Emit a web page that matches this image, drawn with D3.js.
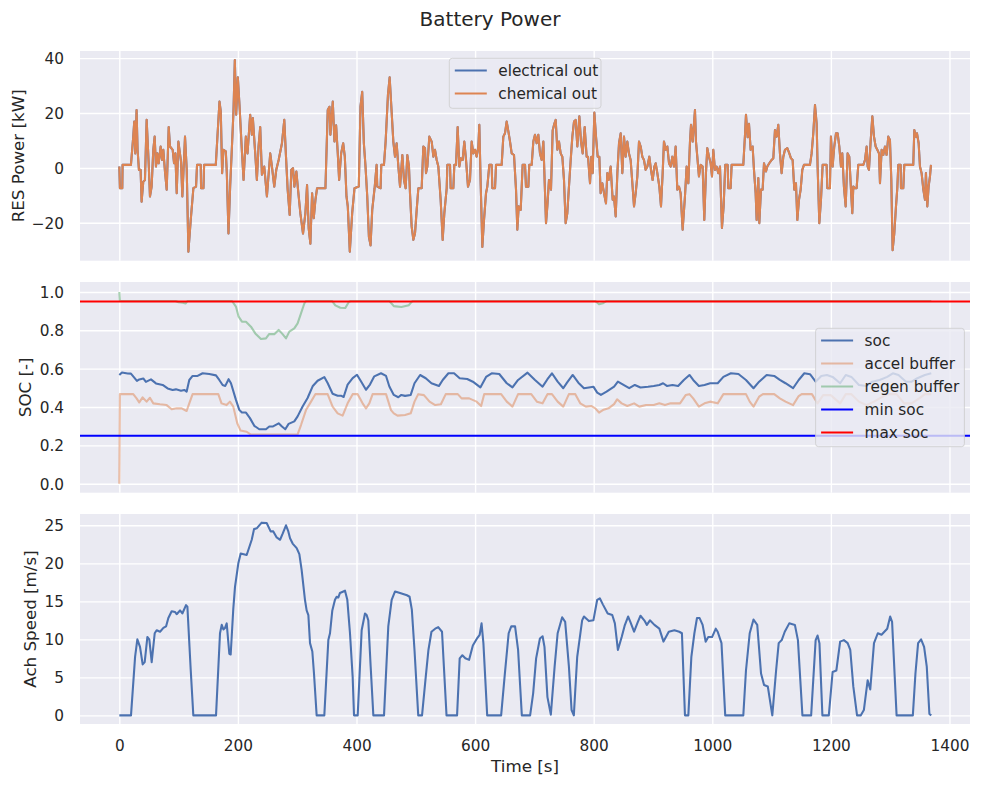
<!DOCTYPE html>
<html>
<head>
<meta charset="utf-8">
<script src="https://cdn.jsdelivr.net/npm/d3@7"></script>
<style>
  body { margin: 0; background: #fff; }
  text { font-family: "DejaVu Sans", sans-serif; fill: #262626; }
</style>
</head>
<body>
<div id="chart"></div>
<script>
// ---- values ----
// RES power [kW] (electrical out and chemical out coincide in the picture)
const powerT = [0,1,5,5.5,19.6,23.5,25.2,26.9,29.1,30.8,33.1,35.9,37.6,40.4,43.2,46.1,49.4,51.7,54.5,57.3,59.6,61.8,64.1,66.3,69.7,72,74.2,77,79.9,83.3,85.5,90,92.3,94.5,96.8,99.6,104.1,106.3,110.8,113.7,116.5,120.4,124.9,129.4,131.1,137.3,137.9,141.9,143,162.7,168.9,171.1,173.4,175.6,179.6,181.3,184.1,186.9,189.7,192.6,194.8,197.1,199.9,202.7,206.6,209.5,213.4,216.2,220.7,223.5,225.2,229.2,232,234.8,237.6,240.5,244.4,248.9,254.5,257.4,261.3,264.7,268.7,274.3,278.2,281.1,283.9,287.3,290.1,292.9,295.2,298.6,301.4,305.3,309.8,313.8,316.6,319.4,322.2,325.1,327.9,330.7,333.5,347.6,351.5,354.4,356,360,362.8,365.6,368.4,370.7,374.1,377.5,380.3,383.1,385.3,388.7,392.7,396.6,403.9,406.7,409.6,412.4,415.2,418.1,420.9,423.7,426.5,430.5,433.9,435,440.6,441.8,446.3,449.1,453,455.9,459.3,462.1,464.9,467.7,470.6,473.4,477.3,480.1,482.9,485.7,488.5,490.2,493,495.9,498.7,501.5,504.3,509.9,512.7,515.5,517.2,519.5,522.8,526.8,529.6,532.4,535.2,538,541.9,545.3,548.1,552.1,553.2,557.7,558.8,563.3,565,567.8,570.6,573.4,575.7,579,581.8,584.7,588,591.4,594.2,597,599.8,602.6,605.5,607.1,609.4,612.2,615,618.4,620.6,624,627.9,629.1,633.6,635.3,644.8,647.6,650.4,653.2,656.1,658.9,661.7,665.6,669,671.2,673.5,676.9,680.2,684.2,685.8,689.8,691.4,695.4,698.2,701,703.8,706.6,709.4,712.3,715.1,719.6,721.8,724.6,728,730.8,733.6,735.9,738.7,741.5,744.3,747.1,749.9,752.7,755.5,758.3,761.2,764,766.8,769.6,772.4,775.8,778.6,781.4,784.8,788.1,790.4,793.8,796,798.3,801.1,803.9,806.7,809.5,811.7,814.6,817.4,820.7,823,825.2,828.6,832,834.2,837.1,839.9,842.7,845.5,848.3,851.1,853.9,856.7,859.5,862.3,865.2,868,870.8,873.6,876.4,879.2,882,884.8,887.6,890.5,893.8,896.6,899.4,902.3,904.5,907.3,910.7,913.5,916.3,918.5,921.4,924.2,927,929.8,932.6,935.4,938.2,941,943.8,946.6,950,953.9,956.7,959.6,962.4,964.1,966.9,970.8,972.5,974.7,977.5,980.4,983.7,986.5,989.3,991.6,994.4,997.2,999.5,1001.7,1004.5,1007.3,1010.1,1013,1016.3,1019.1,1021.9,1025.9,1027,1030.9,1032.6,1052.3,1055.1,1056.8,1059.6,1061.9,1064.7,1068,1070.3,1073.1,1074.8,1077.6,1079.3,1082.1,1084.9,1087.2,1090.5,1092.8,1096.1,1100.1,1102.9,1105.7,1108.5,1111.3,1114.1,1116.9,1119.8,1122.6,1126.5,1129.9,1132.7,1135.5,1138.3,1141.1,1143.4,1146.2,1149,1151.8,1154.6,1164.7,1167.5,1170.3,1173.2,1176,1177.6,1180.5,1183.3,1186.1,1192.8,1194,1198.4,1200.1,1202.9,1205.7,1208.6,1211.4,1214.2,1217,1219.2,1222,1224.9,1228.2,1231,1233.9,1236.1,1237.8,1240.6,1243.4,1246.2,1254.7,1257.5,1260.3,1262,1264.2,1267,1269.9,1272.7,1275.5,1278.3,1281.1,1282.8,1285.6,1288.4,1291.2,1294,1296.8,1299.6,1301.9,1304.1,1306.9,1309.8,1312,1313.7,1317.6,1318.2,1322.1,1323.8,1338.9,1340.7,1343.5,1345.2,1348,1350.2,1353,1355.9,1358.7,1360.3,1362.6,1364.8,1367.1,1368.8];
const chemicalOut = [0.5,-7.4,-7.4,1.1,1.1,11.4,16.9,5.3,21.1,6.6,-0.7,-0.7,-12.3,-5,-4.4,17.5,2.3,-10.4,-6.8,6.6,11.4,0.5,5.3,1.7,7.8,2.9,6.6,-1.3,-7.9,14.9,7.8,6.6,1.7,5.3,-9.2,9.6,2.3,-10.4,11.4,-0.7,-30.5,-19,-7.4,-6.8,1.1,1.1,-7.4,-7.4,1.1,1.1,24.2,20.6,-1.9,6.6,6,-1.9,-23.9,-6.8,6.6,21.1,39.3,19.4,33,22.7,6.6,-4.4,11.4,5.3,19.4,12.1,18.2,5.3,-4.4,7.8,14.9,-2.5,0.5,-10.4,5.3,0.5,-6.8,-0.7,2.9,9,17.5,4.1,-7.9,-17.1,-0.7,-0.1,-6.8,-1.3,-7.9,-16.5,-23.9,-16.5,-6.2,-22.1,-27.6,-9.2,-18.3,-11.7,-7.4,-7.4,21.1,22.3,12.1,24.2,9.6,15.5,5.3,-4.4,5.3,9,4.1,-10.4,-14,-30.5,-16.5,-7.4,-6.8,22.3,27.7,9,0.5,-10.4,-25.1,-28.2,-15.3,-7.4,1.1,-6.8,-7.4,1.1,1.1,9.6,26.5,33,20.2,9.6,4.1,9,0.5,-6.8,4.7,-4.4,-7.4,4.7,0.5,-9.2,-21.3,-26.2,-23.8,-15.3,-7.4,-7.4,7.8,7.2,-1.9,0.5,11.4,9.6,4.1,6.6,2.9,0.5,-11.6,-26.2,-16.5,-7.4,1.1,1.1,-7.4,-7.4,1.1,1.1,14.9,0.5,3.5,2.9,9.6,2.9,-6.8,-4.4,9.6,5.3,6.6,4.1,7.8,15.7,-5.6,-28.8,-19,-9.2,-6.8,1.1,1.1,-7.4,-7.4,1.1,1.1,11.4,12.6,16.9,13.3,9.6,5.3,4.7,-7.9,-22.5,-14,-15.3,1.1,1.1,-6.8,-6.8,1.1,1.1,9.6,12.1,9,12.1,5.3,2.9,9.6,-20.1,-14,-4.4,-7.9,13.6,16.1,17.5,6.6,9.6,5.3,4.1,-4.4,-20.1,-16.5,-6.8,2.9,11.4,16.9,17.5,7.8,18.8,9.6,5.3,14.9,4.1,4.1,-5.6,4.1,-1.9,20.2,11.4,4.1,4.1,-9.2,-5.6,-9.2,-12.9,-1.9,-4.4,0.5,-11.6,-10.4,-17.7,-1.9,9,12.6,-1.9,11.4,4.1,9.6,5.3,2.9,-5.6,-14,-9.2,-3.1,9.6,7.8,4.1,2.9,-0.7,0.5,4.1,-0.7,-4.4,0.5,1.7,-1.9,-6.8,-14,-1.9,9.6,6.6,7.8,1.7,0.5,4.1,0.5,7.8,-7.9,-6.8,-9.2,-22.5,-10.4,0.5,-5.6,9.6,15.7,9.6,21.1,9.6,4.1,-3.1,1.1,0.5,-19,-1.9,7.2,4.1,1.7,-3.1,6.6,-0.7,0.5,-1.9,0.5,-21.9,-14,1.1,1.1,-7.4,-7.4,1.1,1.1,11.8,19.4,11.2,16.1,6.6,7.8,-0.7,-9.2,-19,-3.7,-20.1,-7.9,-7.9,1.7,-1.3,0.5,1.7,2.9,3.5,13.8,11.4,15.7,5.3,-1.9,4.1,6.6,7.2,5.3,3.5,2.9,-7.9,-5.6,-19,-11.6,-7.9,-0.7,1.1,1.1,5.3,12.6,22.9,16.1,0.5,-20.1,-11.6,1.1,1.1,-7.4,-7.4,11.4,0.5,7.8,12.6,12.6,7.8,0.5,5.3,-6.8,-14,5.3,4.1,-7.9,-16.5,-6.8,-7.4,-7.4,1.1,1.1,2.9,7.8,0.5,-0.7,9.6,18.8,11.4,7.8,6.6,5.3,-5.6,6.6,4.7,7.8,4.7,11.4,10.2,-4.4,-30,-23.9,-14,-7.4,1.1,1.1,-7.4,-7.4,1.1,1.1,13.8,11.4,12.6,9,0.5,-1.9,-7.9,-11.6,-1.9,-14,-6.8,-3.1,1.1];
const electricalOut = chemicalOut;

// state of charge [-]
const socT = [0,4.5,14,19.6,25.2,29.7,33.7,40.4,44.9,53.4,61.8,73.1,81.5,89.9,95.5,104,109.6,113.5,118,123.6,132,140.5,151.7,163,168.6,174.2,178.7,184.3,188.3,196.7,202.3,206.8,213.6,220.3,227.6,236,247.3,252.9,258.5,268.7,274.3,279.9,285.5,295.1,300.7,309.1,317.5,326,334.4,345.7,351.3,359.7,368.2,373.8,378.3,385,393.5,400.8,407.5,416,422.7,430,441.3,449.8,455.4,462.9,470.5,475.6,481.9,491.4,497.8,507.3,516.8,526.4,539.1,545.4,555,564.5,574,586.7,596.2,608.9,618.5,628,640.7,653.4,663,672.5,688.4,701,713.8,722,729.6,739.2,748.7,755,764.6,774.1,783.6,791.9,799.5,805.9,812.2,821.7,834.4,840.8,850.3,859.9,869.4,878.9,891.6,901.2,910.7,917,923.4,932.9,942.4,952,961.5,967.8,977.4,986.9,996.4,1009.1,1018.7,1031.4,1044.1,1056.8,1069.5,1079,1091.7,1104.4,1113.9,1123.5,1136.2,1145.7,1155.2,1164.8,1174.3,1183.8,1193.3,1202.9,1215.6,1225.1,1234.6,1247.3,1260,1269.6,1282.3,1295,1304.5,1314,1326.7,1336.2,1345.8,1358.5,1369.3];
const soc = [0.567,0.58,0.575,0.574,0.553,0.536,0.544,0.549,0.531,0.544,0.523,0.515,0.497,0.489,0.492,0.485,0.489,0.48,0.541,0.562,0.562,0.576,0.572,0.565,0.541,0.515,0.51,0.545,0.524,0.437,0.385,0.371,0.371,0.342,0.302,0.284,0.284,0.298,0.298,0.315,0.298,0.284,0.312,0.325,0.351,0.403,0.447,0.508,0.537,0.556,0.525,0.469,0.459,0.459,0.452,0.517,0.551,0.568,0.534,0.49,0.517,0.56,0.576,0.562,0.507,0.463,0.451,0.463,0.458,0.463,0.524,0.567,0.55,0.524,0.51,0.541,0.576,0.576,0.55,0.546,0.532,0.502,0.557,0.576,0.572,0.524,0.502,0.541,0.579,0.541,0.506,0.545,0.576,0.532,0.498,0.527,0.567,0.527,0.498,0.502,0.506,0.475,0.463,0.48,0.506,0.532,0.515,0.498,0.515,0.502,0.506,0.51,0.515,0.524,0.51,0.515,0.51,0.541,0.567,0.541,0.51,0.515,0.524,0.524,0.557,0.576,0.572,0.541,0.498,0.532,0.567,0.562,0.541,0.524,0.498,0.541,0.576,0.571,0.532,0.562,0.567,0.557,0.524,0.567,0.557,0.515,0.51,0.532,0.541,0.557,0.576,0.567,0.532,0.532,0.55,0.567,0.576];

const accelT = [0,1,23.5,29.1,33.6,39.3,46,51.6,57.3,68.5,79.8,88.3,96.7,105.2,113.5,118,123.6,166.9,172.4,180.9,186.5,192.2,198.9,204.5,214.7,221.3,300.7,306.4,314.8,323.3,330.6,351.3,359.7,368.2,376.6,385,393.5,401.9,410.3,416,421.6,427.2,449.8,458.2,462.9,469.2,481.9,491.4,497.8,504.1,513.7,523.2,532.7,542.3,550.5,570.8,577.2,589.9,602.6,610.2,615.3,643.9,653.4,663,672.5,694.7,704.2,713.8,722,729.6,739.2,748.7,758.2,769,777.3,786.8,796.3,802.7,809,815.4,824.9,834.4,839.5,847.2,856.7,868.1,877,888.4,901.2,910.7,920.2,929.7,945.6,955.1,961.5,967.8,977.4,986.9,996.4,1009.1,1018.7,1056.8,1063.1,1069.5,1079,1085.4,1104.4,1113.9,1123.5,1136.2,1145.7,1150.8,1168,1177.5,1187,1199.7,1215.6,1225.1,1234.6,1247.3,1260,1272.7,1282.3,1295,1310.8,1323.5,1336.2,1349,1358.5,1369.3];
const accelBuffer = [0,0.467,0.467,0.445,0.424,0.45,0.428,0.448,0.419,0.414,0.41,0.388,0.393,0.393,0.379,0.419,0.467,0.467,0.419,0.41,0.428,0.402,0.315,0.277,0.271,0.257,0.257,0.306,0.384,0.428,0.467,0.467,0.402,0.367,0.355,0.419,0.467,0.467,0.419,0.393,0.419,0.467,0.467,0.384,0.367,0.355,0.358,0.367,0.428,0.467,0.462,0.428,0.41,0.414,0.467,0.467,0.445,0.445,0.428,0.405,0.467,0.467,0.428,0.402,0.467,0.467,0.428,0.419,0.467,0.467,0.428,0.402,0.467,0.467,0.419,0.402,0.405,0.393,0.371,0.384,0.393,0.415,0.44,0.419,0.405,0.419,0.402,0.41,0.41,0.419,0.41,0.419,0.419,0.462,0.467,0.445,0.402,0.419,0.428,0.419,0.467,0.467,0.428,0.402,0.454,0.467,0.467,0.445,0.428,0.41,0.457,0.467,0.467,0.419,0.462,0.462,0.419,0.467,0.467,0.428,0.41,0.428,0.445,0.467,0.467,0.419,0.419,0.445,0.467,0.467];

const regenT = [0,1,95,100,107,112,115,190,196.7,201.2,206.8,213.6,222,229.3,238.9,247.3,252.9,261.3,268.7,274.3,281.1,286.7,295.1,300.7,306.4,312,314.8,358.6,364.3,372.7,381.1,387,390,455.4,462.9,475.6,488.3,493.3,495,802.7,809,815.4,821.7,1369.3];
const regenBuffer = [1.0,0.953,0.953,0.946,0.944,0.94,0.953,0.953,0.924,0.871,0.845,0.845,0.819,0.784,0.755,0.758,0.781,0.78,0.802,0.784,0.758,0.793,0.81,0.836,0.888,0.94,0.953,0.953,0.93,0.918,0.916,0.948,0.953,0.953,0.926,0.922,0.931,0.95,0.953,0.953,0.936,0.941,0.953,0.953];

const minSoc = 0.25, maxSoc = 0.95;

// achieved speed [m/s]
const speedT = [0,19.7,26.6,30.4,34.9,39.4,42.8,47.3,50.6,54.6,59.7,63,68.7,74.3,78.8,82.7,88.3,93.9,96.7,102.4,106.3,112.5,114.8,120.4,124.8,163.1,169.8,172.7,175.5,178.3,181.1,185.5,187.8,192.2,195.1,200.7,204.7,214.8,223.3,227.2,231.7,240.1,248.5,255.2,259.7,265.4,271.1,275.5,281.1,285,287.9,292.3,299.1,303.6,307.5,313.1,315.9,318.8,321.6,325.5,328.3,332.8,345.7,352.5,355.3,359.2,363.7,366.5,369.3,372.1,377.8,380.6,384.5,389,393.5,395.8,402,408.7,414.3,417.1,419.9,423.9,428.4,446.4,453.6,459.3,465,473.4,485.1,489.5,493.3,497.8,504.1,510.5,516.8,521.3,526.4,532.7,537.8,544.2,551.8,569.6,574,578.5,583.5,589.9,596.2,603.9,607.7,610.9,614,620.4,643.9,650.2,656.6,661,667.4,672.5,678.8,692.8,697.9,702.9,709.3,713.8,717,722,727.7,734.1,739.2,746.8,751.9,758.2,762.7,766.5,772.2,776,780.5,783.6,791.9,799.5,805.9,810.3,815.4,823.6,831.3,835.7,840.8,847.2,852.2,858,861.8,868.1,874.5,878.9,885.3,889.7,894.8,902.4,910.7,917.7,926.6,936.1,944.3,948.8,953.9,959.6,964.7,969.8,974.2,978.6,983.7,988.8,993.2,999.6,1005.9,1009.1,1015.5,1021.8,1052.3,1056.8,1063.1,1069.5,1075.8,1082.2,1087.3,1093.6,1101.2,1107.6,1112,1117.1,1122.2,1129.8,1139.3,1144.4,1152,1166.7,1174.3,1177.5,1180.7,1185.7,1196.5,1202.9,1209.2,1215.6,1221.9,1228.3,1232.7,1237.8,1244.1,1250.5,1255.6,1262,1266.4,1272.7,1279.1,1285.4,1295,1300,1303.2,1310.8,1338.2,1342.6,1347.1,1352.1,1357.2,1361.7,1366.1,1369.3];
const speed = [0,0,7.7,10,9,6.7,7,10.3,10,7,10.8,11.2,11,11.5,11.7,12.8,13.7,13.6,13.3,13.8,13.4,14.5,14.3,6,0,0,10.8,11.9,11.3,11.5,12.1,8.1,8,14,16.9,20,21.3,21.1,23.1,24.5,24.6,25.35,25.3,24.2,24.2,23.4,23.1,23.9,25,24.2,23.3,22.6,22,21.2,19.1,15.2,13.8,13.2,9.5,8.4,5.5,0,0,9.9,10.8,13.8,15.2,15.6,15.5,16.1,16.3,16.4,15.2,10.8,5.1,0,0,11.2,13.4,13.2,12.5,6.4,0,0,11.7,15.2,16.3,16.1,15.8,15.6,13.9,8.6,0,0,5.1,8.6,11,11.4,11.6,11,0,0,7.5,7.9,7.5,7.3,9.2,10.2,10.6,12.1,9.5,0,0,5.5,10.8,11.7,11.7,8.6,0,0,2.9,7.5,10.1,10.4,9,2.4,0.1,6.4,10.8,12.9,12.3,6.4,0.7,0,7.7,9.9,12.5,13,12.4,12.5,15.2,15.4,14.6,13.4,13.2,12.1,8.6,10.3,11.8,13,12.3,11,12.3,13.1,12.5,11.9,12.5,11.9,11.4,9.7,11,11.2,11,10.8,0,0,7.7,10.8,12.8,12.8,11.9,9.7,10.3,10.3,11.4,11,9.5,0,0,5.9,10.8,12.6,11.9,5.5,4,3.8,0,5.9,9.5,9.9,11,12.1,11.9,9.9,0,0,9.9,10.5,9.5,0,0,5.7,5.9,9.7,9.9,9.5,8.6,3.8,0,0,0.7,4.6,3.4,9.5,10.8,10.6,11.4,13,12.3,0,0,5.5,9.5,10,9,6.4,0.2,0];

const xTicks = [0, 200, 400, 600, 800, 1000, 1200, 1400];
const powerTicks = [-20, 0, 20, 40];
const socTicks = [0, 0.2, 0.4, 0.6, 0.8, 1.0];
const speedTicks = [0, 5, 10, 15, 20, 25];

// ---- layout ----
const W = 981, H = 786;
const left = 80, right = 970;
const panels = [
  { top: 51, bottom: 260.7, domain: [-33.8, 42.6], ticks: powerTicks, fmt: d3.format("d"), label: "RES Power [kW]", labelX: 24 },
  { top: 282, bottom: 492.7, domain: [-0.047, 1.052], ticks: socTicks, fmt: d3.format(".1f"), label: "SOC [-]", labelX: 30.5 },
  { top: 514, bottom: 724, domain: [-1.14, 26.49], ticks: speedTicks, fmt: d3.format("d"), label: "Ach Speed [m/s]", labelX: 35.5 }
];

const deep = { blue: "#4C72B0", orange: "#DD8452", green: "#55A868" };

const svg = d3.select("#chart").append("svg")
  .attr("width", W).attr("height", H);
svg.append("rect").attr("width", W).attr("height", H).attr("fill", "#fff");

const x = d3.scaleLinear().domain([-66.3, 1434.6]).range([left, right]);

// tick labels with a unicode minus, like matplotlib
const minus = s => s.replace("-", "\u2212");

panels.forEach((p, i) => {
  p.y = d3.scaleLinear().domain(p.domain).range([p.bottom, p.top]);
  const g = svg.append("g");
  g.append("rect")
    .attr("x", left).attr("y", p.top)
    .attr("width", right - left).attr("height", p.bottom - p.top)
    .attr("fill", "#EAEAF2");

  // horizontal grid + y tick labels
  const ya = g.append("g")
    .attr("transform", `translate(${left},0)`)
    .call(d3.axisLeft(p.y).tickValues(p.ticks).tickSize(-(right - left)).tickPadding(16)
      .tickFormat(d => minus(p.fmt(d))));
  // vertical grid (+ labels on the last panel)
  const xa = g.append("g")
    .attr("transform", `translate(0,${p.bottom})`)
    .call(d3.axisBottom(x).tickValues(xTicks).tickSize(-(p.bottom - p.top)).tickPadding(15.7)
      .tickFormat(i === 2 ? d3.format("d") : () => ""));

  [ya, xa].forEach(a => {
    a.select(".domain").remove();
    a.selectAll("line").attr("stroke", "#fff").attr("stroke-width", 1.4);
    a.selectAll("text").attr("font-family", "DejaVu Sans").attr("font-size", 15.3).attr("fill", "#262626");
  });
  ya.selectAll("text").attr("dy", "0.36em");

  svg.append("text")
    .attr("transform", `translate(${p.labelX},${(p.top + p.bottom) / 2}) rotate(-90)`)
    .attr("text-anchor", "middle")
    .attr("font-size", 16.7)
    .text(p.label);

  svg.append("clipPath").attr("id", "clip" + i)
    .append("rect").attr("x", left).attr("y", p.top)
    .attr("width", right - left).attr("height", p.bottom - p.top);
});

function drawLine(panel, i, ts, vs, color, opacity) {
  const line = d3.line()
    .x((d, k) => x(ts[k]))
    .y(d => panel.y(d));
  svg.append("path")
    .datum(vs)
    .attr("clip-path", `url(#clip${i})`)
    .attr("fill", "none")
    .attr("stroke", color)
    .attr("stroke-opacity", opacity)
    .attr("stroke-width", 2.08)
    .attr("stroke-linejoin", "round")
    .attr("stroke-linecap", "butt")
    .attr("d", line);
}

function drawHLine(panel, i, v, color) {
  svg.append("line")
    .attr("clip-path", `url(#clip${i})`)
    .attr("x1", left).attr("x2", right)
    .attr("y1", panel.y(v)).attr("y2", panel.y(v))
    .attr("stroke", color).attr("stroke-width", 2.08);
}

// panel 1: power
drawLine(panels[0], 0, powerT, electricalOut, deep.blue, 1);
drawLine(panels[0], 0, powerT, chemicalOut, deep.orange, 1);

// panel 2: soc
drawLine(panels[1], 1, socT, soc, deep.blue, 1);
drawLine(panels[1], 1, accelT, accelBuffer, deep.orange, 0.5);
drawLine(panels[1], 1, regenT, regenBuffer, deep.green, 0.5);
drawHLine(panels[1], 1, minSoc, "#0000FF");
drawHLine(panels[1], 1, maxSoc, "#FF0000");

// panel 3: speed
drawLine(panels[2], 2, speedT, speed, deep.blue, 1);

// legends
function legend(x0, y0, w, h, items) {
  const g = svg.append("g");
  g.append("rect")
    .attr("x", x0).attr("y", y0).attr("width", w).attr("height", h)
    .attr("rx", 3).attr("ry", 3)
    .attr("fill", "#EAEAF2").attr("fill-opacity", 0.8)
    .attr("stroke", "#CCCCCC").attr("stroke-opacity", 0.8).attr("stroke-width", 1);
  items.forEach((it, k) => {
    const cy = y0 + 12.2 + k * 23;
    g.append("line")
      .attr("x1", x0 + 5.5).attr("x2", x0 + 37.5)
      .attr("y1", cy).attr("y2", cy)
      .attr("stroke", it.color).attr("stroke-opacity", it.opacity || 1)
      .attr("stroke-width", 2.08);
    g.append("text")
      .attr("x", x0 + 49).attr("y", cy).attr("dy", "0.36em")
      .attr("font-size", 15.3)
      .text(it.name);
  });
}

legend(449.3, 58.3, 151.7, 50, [
  { name: "electrical out", color: deep.blue },
  { name: "chemical out", color: deep.orange }
]);
legend(815.6, 328.3, 148.8, 118.4, [
  { name: "soc", color: deep.blue },
  { name: "accel buffer", color: deep.orange, opacity: 0.5 },
  { name: "regen buffer", color: deep.green, opacity: 0.5 },
  { name: "min soc", color: "#0000FF" },
  { name: "max soc", color: "#FF0000" }
]);

// titles
svg.append("text")
  .attr("x", 490).attr("y", 25.5)
  .attr("text-anchor", "middle")
  .attr("font-size", 20)
  .text("Battery Power");

svg.append("text")
  .attr("x", (left + right) / 2).attr("y", 772)
  .attr("text-anchor", "middle")
  .attr("font-size", 16.7)
  .text("Time [s]");
</script>
</body>
</html>
